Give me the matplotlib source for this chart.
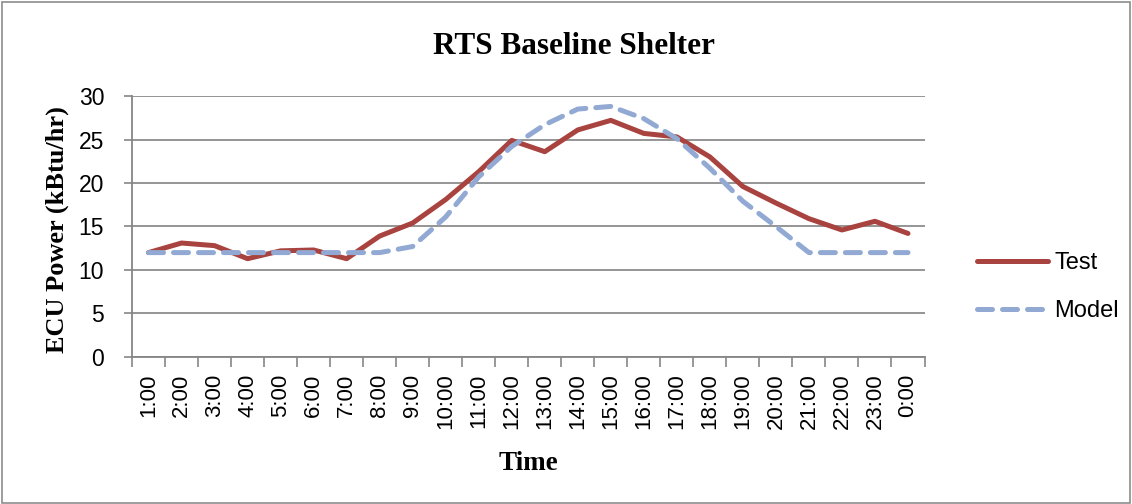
import matplotlib
matplotlib.use("Agg")
import matplotlib.pyplot as plt
from matplotlib.patches import Rectangle

hours = ["1:00", "2:00", "3:00", "4:00", "5:00", "6:00", "7:00", "8:00",
         "9:00", "10:00", "11:00", "12:00", "13:00", "14:00", "15:00", "16:00",
         "17:00", "18:00", "19:00", "20:00", "21:00", "22:00", "23:00", "0:00"]
test = [12.0, 13.1, 12.8, 11.3, 12.2, 12.3, 11.3, 13.9,
        15.4, 18.1, 21.3, 24.9, 23.6, 26.1, 27.2, 25.7,
        25.3, 23.0, 19.6, 17.7, 15.9, 14.6, 15.6, 14.2]
model = [12.0, 12.0, 12.0, 12.0, 12.0, 12.0, 12.0, 12.0,
         12.7, 16.1, 20.7, 24.2, 26.7, 28.5, 28.8, 27.4,
         25.1, 21.7, 17.9, 15.0, 12.0, 12.0, 12.0, 12.0]
y_ticks = [0, 5, 10, 15, 20, 25, 30]

serif = "Liberation Serif"
sans = "Liberation Sans"

fig = plt.figure(figsize=(11.32, 5.04), dpi=100)
ax = fig.add_axes([0.1166, 0.2917, 0.7001, 0.5178])

x = list(range(len(hours)))
ax.plot(x, test, color="#A8433F", lw=3.6, solid_capstyle="round", label="Test", zorder=3)
ax.plot(x, model, color="#91A9D3", lw=3.6, ls=(0, (3.0, 2.0)), dash_capstyle="round",
        label="Model", zorder=3)

ax.set_xlim(-0.5, len(hours) - 0.5)
ax.set_ylim(0, 30)
ax.set_yticks(y_ticks)
ax.set_xticks(x)
ax.set_xticklabels(hours, rotation=90, fontsize=16, family=sans)
ax.tick_params(axis="x", length=0, pad=12)
ax.set_xticks([i - 0.5 for i in range(len(hours) + 1)], minor=True)
ax.tick_params(axis="x", which="minor", length=7, color="#868686", width=1.2)
ax.tick_params(axis="y", labelsize=16.5, length=6, color="#868686", width=1.2, pad=14)
for lab in ax.get_yticklabels():
    lab.set_family(sans)

ax.grid(axis="y", color="#8C8C8C", lw=1.3)
ax.set_axisbelow(True)
for s in ["top", "right"]:
    ax.spines[s].set_visible(False)
for s in ["left", "bottom"]:
    ax.spines[s].set_color("#868686")
    ax.spines[s].set_linewidth(1.3)

fig.text(0.507, 0.907, "RTS Baseline Shelter", fontsize=22.5, fontweight="bold",
         family=serif, ha="center", va="center")
ax.set_ylabel("ECU Power (kBtu/hr)", fontsize=19, fontweight="bold", family=serif)
ax.yaxis.set_label_coords(-0.079, 0.49)
ax.set_xlabel("Time", fontsize=19.5, fontweight="bold", family=serif)
ax.xaxis.set_label_coords(0.5, -0.36)

leg = fig.legend(loc="center left", bbox_to_anchor=(0.853, 0.43), frameon=False,
                 prop={"family": sans, "size": 17}, handlelength=3.0, borderpad=0,
                 labelspacing=1.1, handletextpad=0.25)

fig.patches.append(Rectangle((0.002, 0.002), 0.996, 0.995, transform=fig.transFigure,
                             fill=False, edgecolor="#8C8C8C", lw=1.2))

fig.savefig("out.png", dpi=100)
